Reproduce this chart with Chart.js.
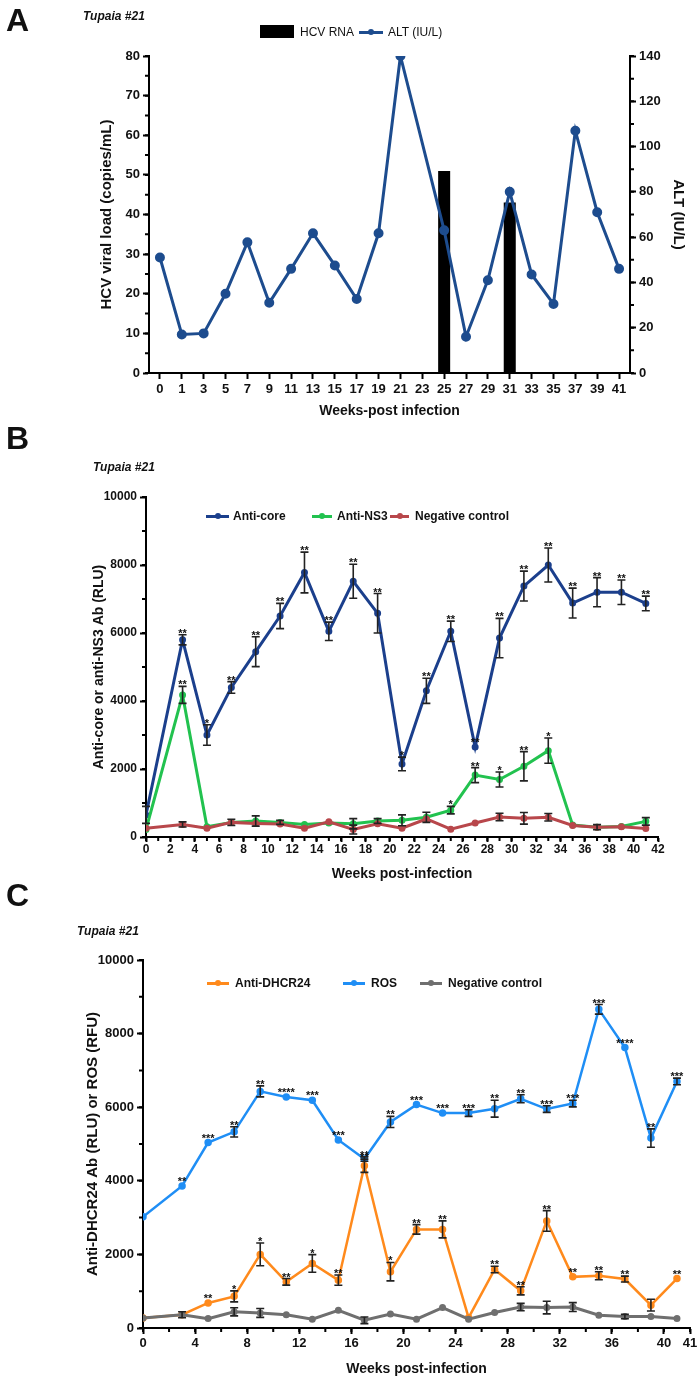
<!DOCTYPE html>
<html>
<head>
<meta charset="utf-8">
<script src="https://cdn.jsdelivr.net/npm/chart.js@4.4.1/dist/chart.umd.min.js"></script>
<style>
  body { margin: 0; width: 700px; height: 1384px; position: relative; background: #fff; overflow: hidden;
         font-family: "Liberation Sans", Arial, sans-serif; color: #111; }
  canvas { position: absolute; left: 0; }
  .txt { position: absolute; white-space: nowrap; line-height: 1; }
  .letter { font-weight: bold; font-size: 32px; }
  .tupaia { font-weight: bold; font-style: italic; font-size: 12px; }
  .leg { font-size: 12px; font-weight: bold; }
  .mk { position: absolute; }
</style>
</head>
<body>
<canvas id="chartA" width="700" height="430" style="top:0"></canvas>
<canvas id="chartB" width="700" height="470" style="top:420px"></canvas>
<canvas id="chartC" width="700" height="499" style="top:885px"></canvas>

<script>
/* Tupaia #21: (A) HCV RNA + ALT, (B) anti-core / anti-NS3, (C) anti-DHCR24 / ROS. */

// ---- Panel A ----
const aWeeks = ['0','1','3','5','7','9','11','13','15','17','19','21','23','25','27','29','31','33','35','37','39','41'];
const aHcvRna = [null,null,null,null,null,null,null,null,null,null,null,null,null,51,null,null,43,null,null,null,null,null];
const aAlt = [51,17,17.5,35,57.7,31,46,61.7,47.5,32.7,61.7,140,null,63,16,41,80,43.5,30.5,107,71,46];

// ---- Panel B ----
const bWeeks = [0,3,5,7,9,11,13,15,17,19,21,23,25,27,29,31,33,35,37,39,41];
const bCore = [650,5800,3000,4400,5450,6500,7780,6050,7520,6580,2150,4300,6050,2650,5850,7380,8000,6880,7200,7200,6870];
const bCoreErr = [250,150,300,170,440,370,600,270,500,580,200,370,300,0,580,440,500,440,430,360,215];
const bCoreStars = ['','**','*','**','**','**','**','**','**','**','*','**','**','**','**','**','**','**','**','**','**'];
const bNs3 = [220,4180,300,430,470,430,370,410,390,470,490,580,790,1820,1690,2080,2540,350,290,310,460];
const bNs3Err = [0,250,0,90,150,60,0,0,150,70,160,150,110,220,220,430,370,0,75,0,110];
const bNs3Stars = ['','**','','','','','','','','','','','*','**','*','**','*','','','',''];
const bNeg = [260,370,260,430,400,380,260,450,220,390,260,530,230,410,590,550,580,340,290,300,250];
const bNegErr = [0,75,0,0,0,0,0,0,130,0,0,0,0,0,110,170,110,0,0,0,0];

// ---- Panel C ----
const cWeeks = [0,3,5,7,9,11,13,15,17,19,21,23,25,27,29,31,33,35,37,39,41];
const cDhcr = [270,360,680,860,2000,1255,1755,1300,4410,1530,2680,2680,280,1590,1010,2910,1390,1420,1330,620,1345];
const cDhcrErr = [0,0,0,150,310,90,240,140,180,250,130,230,0,90,110,280,0,110,80,160,0];
const cDhcrStars = ['','','**','*','*','**','*','**','**','*','**','**','','**','**','**','**','**','**','','**'];
const cRos = [3020,3860,5040,5330,6430,6280,6190,5110,4590,5600,6070,5840,5840,5960,6230,5950,6100,8660,7620,5160,6700];
const cRosErr = [0,0,0,140,150,0,0,0,60,150,0,0,90,230,110,90,90,130,0,250,90];
const cRosStars = ['','**','***','**','**','****','***','***','**','**','***','***','***','**','**','***','***','***','****','**','***'];
const cNeg = [270,360,255,440,410,360,240,480,210,380,240,555,240,420,570,555,570,345,310,310,255];
const cNegErr = [0,80,0,110,120,0,0,0,90,0,0,0,0,0,100,170,120,0,60,0,0];
const cXTicks = [0,4,8,12,16,20,24,28,32,36,40,42];
const cXTickLabels = ['0','4','8','12','16','20','24','28','32','36','40','41'];

const FONT = '"Liberation Sans", Arial, sans-serif';
Chart.defaults.font.family = FONT;
Chart.defaults.font.weight = 'bold';
Chart.defaults.font.size = 13;
Chart.defaults.color = '#111';

// error bars + significance stars, positioned from the chart's own scales
const errorBars = {
  id: 'errorBars',
  afterDatasetsDraw(chart) {
    const ctx = chart.ctx;
    chart.data.datasets.forEach((ds, i) => {
      if (!ds.errors && !ds.stars) return;
      const meta = chart.getDatasetMeta(i);
      const ys = chart.scales[meta.yAxisID];
      meta.data.forEach((pt, j) => {
        const v = ds.data[j].y;
        const e = ds.errors ? ds.errors[j] : 0;
        let top = pt.y - 3;
        if (e) {
          top = ys.getPixelForValue(v + e);
          const bot = ys.getPixelForValue(v - e);
          ctx.save();
          ctx.strokeStyle = '#222';
          ctx.lineWidth = 1.6;
          ctx.beginPath();
          ctx.moveTo(pt.x, top); ctx.lineTo(pt.x, bot);
          ctx.moveTo(pt.x - 4, top); ctx.lineTo(pt.x + 4, top);
          ctx.moveTo(pt.x - 4, bot); ctx.lineTo(pt.x + 4, bot);
          ctx.stroke();
          ctx.restore();
        }
        const s = ds.stars && ds.stars[j];
        if (s) {
          ctx.save();
          ctx.fillStyle = '#111';
          ctx.font = 'bold 11px ' + FONT;
          ctx.textAlign = 'center';
          ctx.textBaseline = 'alphabetic';
          ctx.fillText(s, pt.x, top + 2);
          ctx.restore();
        }
      });
    });
  }
};

// small unlabeled ticks between the labeled ones
const minorTicks = {
  id: 'minorTicks',
  afterDraw(chart, args, opts) {
    const ctx = chart.ctx;
    ctx.save();
    ctx.strokeStyle = '#000';
    ctx.lineWidth = 2;
    Object.entries(opts.steps || {}).forEach(([id, step]) => {
      const sc = chart.scales[id];
      ctx.beginPath();
      for (let v = sc.min; v <= sc.max + 1e-9; v += step) {
        const p = sc.getPixelForValue(v);
        if (sc.position === 'left') { ctx.moveTo(sc.right, p); ctx.lineTo(sc.right - 4, p); }
        else if (sc.position === 'right') { ctx.moveTo(sc.left, p); ctx.lineTo(sc.left + 4, p); }
        else { ctx.moveTo(p, sc.top); ctx.lineTo(p, sc.top + 4); }
      }
      ctx.stroke();
    });
    ctx.restore();
  }
};

function axisStyle(extra) {
  return Object.assign({
    grid: { drawOnChartArea: false, tickLength: 6, tickColor: '#000', tickWidth: 2 },
    border: { color: '#000', width: 2 },
  }, extra);
}
function title(text, size) {
  return { display: true, text, font: { size: size || 14, weight: 'bold' }, color: '#111', padding: { top: 4, bottom: 4 } };
}
const pts = (xs, ys) => xs.map((x, i) => ({ x, y: ys[i] }));
const plain = (v) => String(v);

// ---- A ----
new Chart(document.getElementById('chartA'), {
  data: {
    labels: aWeeks,
    datasets: [
      { type: 'line', label: 'ALT (IU/L)', data: aAlt, yAxisID: 'yAlt', order: 0,
        borderColor: '#1d4c8e', backgroundColor: '#1d4c8e', borderWidth: 3,
        pointRadius: 3.5, spanGaps: true },
      { type: 'bar', label: 'HCV RNA', data: aHcvRna, yAxisID: 'yHcv', order: 1,
        backgroundColor: '#000', barPercentage: 0.55, categoryPercentage: 1 },
    ],
  },
  options: {
    responsive: false, animation: false,
    layout: { padding: { left: 94, right: 9, top: 56, bottom: 6 } },
    plugins: { legend: { display: false }, tooltip: { enabled: false }, minorTicks: { steps: { yHcv: 5, yAlt: 10 } } },
    scales: {
      x: axisStyle({ type: 'category', offset: true,
        grid: { drawOnChartArea: false, offset: false, tickLength: 6, tickColor: '#000', tickWidth: 2 },
        ticks: { padding: 3, autoSkip: false, maxRotation: 0, font: { size: 13 } },
        title: title('Weeks-post infection'),
        afterFit: (s) => { s.height = 51; } }),
      yHcv: axisStyle({ position: 'left', min: 0, max: 80,
        ticks: { stepSize: 10, padding: 3, callback: plain },
        title: title('HCV viral load (copies/mL)', 15),
        afterFit: (s) => { s.width = 55; } }),
      yAlt: axisStyle({ position: 'right', min: 0, max: 140,
        ticks: { stepSize: 20, padding: 3, callback: plain },
        title: title('ALT (IU/L)', 15),
        afterFit: (s) => { s.width = 61; } }),
    },
  },
  plugins: [minorTicks],
});

// ---- B ----
new Chart(document.getElementById('chartB'), {
  type: 'line',
  data: {
    datasets: [
      { label: 'Negative control', data: pts(bWeeks, bNeg), errors: bNegErr,
        borderColor: '#b8474b', backgroundColor: '#b8474b', borderWidth: 3, pointRadius: 2 },
      { label: 'Anti-NS3', data: pts(bWeeks, bNs3), errors: bNs3Err, stars: bNs3Stars,
        borderColor: '#22c24f', backgroundColor: '#22c24f', borderWidth: 3, pointRadius: 2 },
      { label: 'Anti-core', data: pts(bWeeks, bCore), errors: bCoreErr, stars: bCoreStars,
        borderColor: '#1b3f8c', backgroundColor: '#1b3f8c', borderWidth: 3, pointRadius: 2 },
    ],
  },
  options: {
    responsive: false, animation: false,
    layout: { padding: { left: 87, right: 42, top: 77, bottom: 3 } },
    plugins: { legend: { display: false }, tooltip: { enabled: false }, minorTicks: { steps: { x: 1, y: 1000 } } },
    scales: {
      x: axisStyle({ type: 'linear', min: 0, max: 42,
        grid: { drawOnChartArea: false, tickLength: 5, tickColor: '#000', tickWidth: 2 },
        ticks: { stepSize: 2, padding: 0, autoSkip: false, maxRotation: 0, font: { size: 12 } },
        title: title('Weeks post-infection'),
        afterFit: (s) => { s.height = 50; } }),
      y: axisStyle({ min: 0, max: 10000,
        ticks: { stepSize: 2000, padding: 3, callback: plain, font: { size: 12 } },
        title: title('Anti-core or anti-NS3 Ab (RLU)'),
        afterFit: (s) => { s.width = 59; } }),
    },
  },
  plugins: [errorBars, minorTicks],
});

// ---- C ----
new Chart(document.getElementById('chartC'), {
  type: 'line',
  data: {
    datasets: [
      { label: 'Negative control', data: pts(cWeeks, cNeg), errors: cNegErr,
        borderColor: '#6f6f6f', backgroundColor: '#6f6f6f', borderWidth: 3, pointRadius: 2 },
      { label: 'Anti-DHCR24', data: pts(cWeeks, cDhcr), errors: cDhcrErr, stars: cDhcrStars,
        borderColor: '#ff8a1c', backgroundColor: '#ff8a1c', borderWidth: 2.5, pointRadius: 2.5 },
      { label: 'ROS', data: pts(cWeeks, cRos), errors: cRosErr, stars: cRosStars,
        borderColor: '#1f8ef5', backgroundColor: '#1f8ef5', borderWidth: 2.5, pointRadius: 2.5 },
    ],
  },
  options: {
    responsive: false, animation: false,
    layout: { padding: { left: 80, right: 10, top: 75, bottom: 2 } },
    plugins: { legend: { display: false }, tooltip: { enabled: false }, minorTicks: { steps: { x: 2, y: 1000 } } },
    scales: {
      x: axisStyle({ type: 'linear', min: 0, max: 42,
        afterBuildTicks: (s) => { s.ticks = cXTicks.map((v) => ({ value: v })); },
        ticks: { padding: 2, autoSkip: false, maxRotation: 0,
          callback: (v) => cXTickLabels[cXTicks.indexOf(v)] },
        title: title('Weeks post-infection'),
        afterFit: (s) => { s.height = 54; } }),
      y: axisStyle({ min: 0, max: 10000,
        ticks: { stepSize: 2000, padding: 3, callback: plain },
        title: title('Anti-DHCR24 Ab (RLU) or ROS (RFU)', 15),
        afterFit: (s) => { s.width = 63; } }),
    },
  },
  plugins: [errorBars, minorTicks],
});

// ---- text overlays: panel letters, animal id, legends ----
function addText(cls, text, x, y) {
  const el = document.createElement('div');
  el.className = 'txt ' + cls;
  el.textContent = text;
  el.style.left = x + 'px';
  el.style.top = y + 'px';
  document.body.appendChild(el);
  return el;
}
function addLineMarker(x, y, w, color) {
  const ln = document.createElement('div');
  ln.className = 'mk';
  Object.assign(ln.style, { left: x + 'px', top: (y - 1.5) + 'px', width: w + 'px', height: '3px', background: color });
  document.body.appendChild(ln);
  const dot = document.createElement('div');
  dot.className = 'mk';
  Object.assign(dot.style, { left: (x + w / 2 - 3) + 'px', top: (y - 3) + 'px', width: '6px', height: '6px',
    borderRadius: '3px', background: color });
  document.body.appendChild(dot);
}

addText('letter', 'A', 6, 4);
addText('tupaia', 'Tupaia #21', 83, 10);
const box = document.createElement('div');
box.className = 'mk';
Object.assign(box.style, { left: '260px', top: '25px', width: '34px', height: '13px', background: '#000' });
document.body.appendChild(box);
addText('leg', 'HCV RNA', 300, 26).style.fontWeight = 'normal';
addLineMarker(359, 32, 24, '#1d4c8e');
addText('leg', 'ALT (IU/L)', 388, 26).style.fontWeight = 'normal';

addText('letter', 'B', 6, 422);
addText('tupaia', 'Tupaia #21', 93, 461);
addLineMarker(206, 516, 23, '#1b3f8c');
addText('leg', 'Anti-core', 233, 510);
addLineMarker(312, 516, 20, '#22c24f');
addText('leg', 'Anti-NS3', 337, 510);
addLineMarker(390, 516, 19, '#b8474b');
addText('leg', 'Negative control', 415, 510);

addText('letter', 'C', 6, 879);
addText('tupaia', 'Tupaia #21', 77, 925);
addLineMarker(207, 983, 22, '#ff8a1c');
addText('leg', 'Anti-DHCR24', 235, 977);
addLineMarker(343, 983, 22, '#1f8ef5');
addText('leg', 'ROS', 371, 977);
addLineMarker(420, 983, 22, '#6f6f6f');
addText('leg', 'Negative control', 448, 977);
</script>
</body>
</html>
